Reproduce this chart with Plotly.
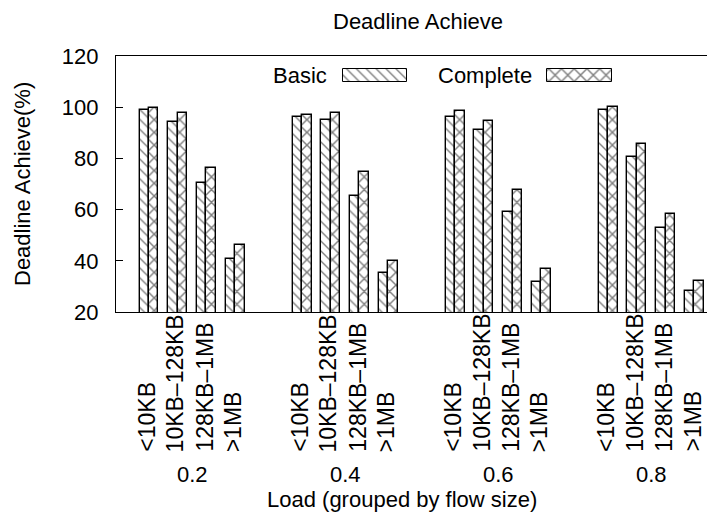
import plotly.graph_objects as go

# ---------------- data ----------------
loads = ["0.2", "0.4", "0.6", "0.8"]
flow_sizes = ["<10KB", "10KB–128KB", "128KB–1MB", ">1MB"]
basic = [
    [98.9, 94.1, 70.3, 40.6],
    [96.0, 94.9, 65.3, 35.2],
    [96.0, 91.0, 58.9, 31.6],
    [99.0, 80.4, 52.7, 28.1],
]
complete = [
    [99.5, 97.6, 76.1, 46.1],
    [96.8, 97.6, 74.8, 39.8],
    [98.4, 94.7, 67.5, 36.9],
    [99.9, 85.5, 58.3, 32.0],
]
y_ticks = [20, 40, 60, 80, 100, 120]

# ---------------- layout constants ----------------
OFF = 8  # page body margin of the browser
W, H = 715 - OFF, 516 - OFF
ML, MR, MT, MB = 116 - OFF, 0, 56 - OFF, 204
PW, PH = W - ML - MR, H - MT - MB
GROUP_STEP = 16 / 3
BAR_W = 0.33
X_RANGE = [-1.15, 19.72]
Y_RANGE = [20, 120]
FONT = "Liberation Sans, Arial, Helvetica, sans-serif"
FS = 22


def px_to_x(px):
    return X_RANGE[0] + (px - OFF - ML) / PW * (X_RANGE[1] - X_RANGE[0])


def py_to_y(py):
    return Y_RANGE[1] - (py - OFF - MT) / PH * (Y_RANGE[1] - Y_RANGE[0])


def paper_x(px):
    return (px - OFF - ML) / PW


def paper_y(py):
    return (MT + PH - (py - OFF)) / PH


pos = [[g * GROUP_STEP + c for c in range(len(flow_sizes))] for g in range(len(loads))]
flat_pos = [p for row in pos for p in row]
flat_basic = [v for row in basic for v in row]
flat_complete = [v for row in complete for v in row]

pat_basic = dict(shape="\\", fgcolor="black", bgcolor="white", size=7, solidity=0.2)
pat_complete = dict(shape="x", fgcolor="black", bgcolor="white", size=9, solidity=0.3)
line = dict(color="black", width=1.4)

fig = go.Figure()
fig.add_trace(go.Bar(
    x=[p - BAR_W / 2 for p in flat_pos], y=flat_basic, width=BAR_W,
    marker=dict(color="white", pattern=pat_basic, line=line), name="Basic",
))
fig.add_trace(go.Bar(
    x=[p + BAR_W / 2 for p in flat_pos], y=flat_complete, width=BAR_W,
    marker=dict(color="white", pattern=pat_complete, line=line), name="Complete",
))

# custom legend (text left of swatch)
sw_top, sw_bot = py_to_y(69), py_to_y(82)
for (x0, x1), pat in [((343, 407), pat_basic), ((547, 612), pat_complete)]:
    a, b = px_to_x(x0), px_to_x(x1)
    fig.add_trace(go.Bar(
        x=[(a + b) / 2], y=[sw_top - sw_bot], base=[sw_bot], width=[b - a],
        marker=dict(color="white", pattern=pat, line=dict(color="black", width=1)),
        hoverinfo="skip",
    ))


def txt(**kw):
    d = dict(showarrow=False, font=dict(size=FS, color="black", family=FONT))
    d.update(kw)
    return d


annotations = []
for label, xr in [("Basic", 329), ("Complete", 534)]:
    annotations.append(txt(text=label, x=paper_x(xr), y=paper_y(75), xref="paper", yref="paper",
                           xanchor="right", yanchor="middle"))

# rotated flow-size labels
for g in range(len(loads)):
    for c, s in enumerate(flow_sizes):
        annotations.append(txt(text=s, x=pos[g][c] - 0.08, y=paper_y(454), xref="x", yref="paper",
                               textangle=-90, xanchor="center", yanchor="bottom",
                               font=dict(size=23, color="black", family=FONT)))
    annotations.append(txt(text=loads[g], x=sum(pos[g]) / len(pos[g]), y=paper_y(474),
                           xref="x", yref="paper", xanchor="center", yanchor="middle",
                           borderpad=0))

annotations.append(txt(text="Load (grouped by flow size)", x=paper_x(402), y=paper_y(499),
                       xref="paper", yref="paper", xanchor="center", yanchor="middle",
                       borderpad=0))
annotations.append(txt(text="Deadline Achieve(%)", x=paper_x(22), y=0.5,
                       xref="paper", yref="paper", xanchor="center", yanchor="middle",
                       textangle=-90))
annotations.append(txt(text="Deadline Achieve", x=paper_x(418), y=paper_y(21),
                       xref="paper", yref="paper", xanchor="center", yanchor="middle"))

fig.update_layout(
    width=W, height=H,
    margin=dict(l=ML, r=MR, t=MT, b=MB, pad=0),
    paper_bgcolor="white", plot_bgcolor="white",
    barmode="overlay", bargap=0, showlegend=False,
    font=dict(family=FONT, size=FS, color="black"),
    annotations=annotations,
    xaxis=dict(range=X_RANGE, showgrid=False, zeroline=False, showticklabels=False,
               ticks="", showline=True, linecolor="black", linewidth=1.2, mirror=True),
    yaxis=dict(range=Y_RANGE, tickvals=y_ticks, showgrid=False, zeroline=False,
               ticks="inside", ticklen=7, tickcolor="black", tickwidth=1,
               showline=True, linecolor="black", linewidth=1.2, mirror=False,
               ticklabelstandoff=12, tickfont=dict(size=FS, color="black", family=FONT)),
)

fig.write_html("out.html")
